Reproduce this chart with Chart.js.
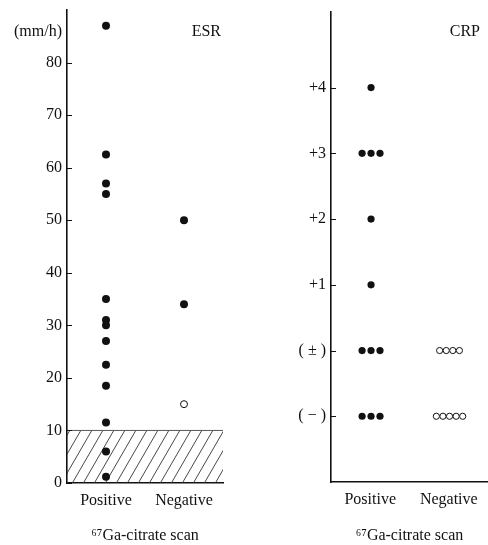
<!DOCTYPE html>
<html>
<head>
<meta charset="utf-8">
<script src="https://cdn.jsdelivr.net/npm/chart.js@4.4.0/dist/chart.umd.min.js"></script>
<style>
  body { margin: 0; background: #fff; }
  #wrap { position: relative; width: 488px; height: 545px; }
  canvas { position: absolute; top: 0; }
</style>
</head>
<body>
<div id="wrap">
  <canvas id="esr" width="245" height="545" style="left:0"></canvas>
  <canvas id="crp" width="243" height="545" style="left:245px"></canvas>
</div>
<script>
// Gallium scan groups (x positions on a 0..1 axis)
const GROUPS = ["Positive", "Negative"];
const GROUP_X = [0.25, 0.75];

// ESR (mm/h)
const ESR_TICKS = [0, 10, 20, 30, 40, 50, 60, 70, 80];
const ESR_POSITIVE = [87, 62.5, 57, 55, 35, 31, 30, 27, 22.5, 18.5, 11.5, 6, 1.2];
const ESR_NEGATIVE = [50, 34];
const ESR_NEGATIVE_OPEN = [15];
const ESR_NORMAL_UPPER = 10;

// CRP grades, index = value on the y axis
const CRP_LEVELS = ["( − )", "( ± )", "+1", "+2", "+3", "+4"];
const CRP_POSITIVE_COUNTS = [3, 3, 1, 1, 3, 1];
const CRP_NEGATIVE_COUNTS = [5, 4, 0, 0, 0, 0];

const INK = "#111";
const SERIF = "'Liberation Serif', 'DejaVu Serif', serif";
const FONT_SIZE = 16;

// hatch pattern for the normal range
function hatchPattern() {
  const w = 11, h = 19;
  const c = document.createElement("canvas");
  c.width = w; c.height = h;
  const g = c.getContext("2d");
  g.strokeStyle = "#333";
  g.lineWidth = 0.9;
  for (const dx of [-w, 0, w]) {
    g.beginPath();
    g.moveTo(dx, h);
    g.lineTo(dx + w, 0);
    g.stroke();
  }
  return document.getElementById("esr").getContext("2d").createPattern(c, "repeat");
}

// dots of one grade spread side by side around the group centre
function spread(counts, centre, step) {
  const pts = [];
  counts.forEach((n, level) => {
    for (let i = 0; i < n; i++) {
      pts.push({ x: centre + (i - (n - 1) / 2) * step, y: level });
    }
  });
  return pts;
}

// short inner tick marks + corner labels
const panelDecor = {
  id: "panelDecor",
  afterDraw(chart, args, opts) {
    const { ctx, chartArea, scales } = chart;
    ctx.save();
    ctx.strokeStyle = INK;
    ctx.lineWidth = 1;
    scales.y.ticks.forEach((t) => {
      const y = Math.round(scales.y.getPixelForValue(t.value)) + 0.5;
      ctx.beginPath();
      ctx.moveTo(chartArea.left, y);
      ctx.lineTo(chartArea.left + 5, y);
      ctx.stroke();
    });
    ctx.fillStyle = INK;
    ctx.font = FONT_SIZE + "px " + SERIF;
    ctx.textBaseline = "middle";
    ctx.textAlign = "right";
    ctx.fillText(opts.corner, chartArea.right - opts.cornerInset, 32);
    if (opts.unit) {
      ctx.fillText(opts.unit, chartArea.left - 5, 32);
    }
    ctx.restore();
  },
};

function xScale(height) {
  return {
    type: "linear",
    min: 0,
    max: 1,
    afterBuildTicks: (axis) => { axis.ticks = GROUP_X.map((v) => ({ value: v })); },
    afterFit: (axis) => {
      axis.height = height;
      axis.paddingLeft = 0;
      axis.paddingRight = 0;
    },
    grid: { display: true, drawOnChartArea: false, drawTicks: false },
    border: { display: true, color: INK, width: 1.6 },
    ticks: {
      color: INK,
      font: { family: SERIF, size: FONT_SIZE },
      padding: 8,
      maxRotation: 0,
      callback: (v) => GROUPS[GROUP_X.indexOf(v)],
    },
    title: {
      display: true,
      text: "⁶⁷Ga-citrate scan",
      color: INK,
      font: { family: SERIF, size: FONT_SIZE },
      padding: { top: 0, bottom: 0 },
    },
  };
}

function yBase(width) {
  return {
    type: "linear",
    afterFit: (axis) => {
      axis.width = width;
      axis.paddingTop = 0;
      axis.paddingBottom = 0;
    },
    grid: { display: true, drawOnChartArea: false, drawTicks: false },
    border: { display: true, color: INK, width: 1.6 },
  };
}

const dot = { pointRadius: 4, pointHoverRadius: 4, pointBackgroundColor: INK, pointBorderColor: INK, pointBorderWidth: 0 };

// ESR panel
new Chart(document.getElementById("esr"), {
  type: "scatter",
  data: {
    datasets: [
      { label: "Positive", data: ESR_POSITIVE.map((y) => ({ x: GROUP_X[0], y })), ...dot, order: 0 },
      { label: "Negative", data: ESR_NEGATIVE.map((y) => ({ x: GROUP_X[1], y })), ...dot, order: 0 },
      {
        label: "Negative (open)",
        data: ESR_NEGATIVE_OPEN.map((y) => ({ x: GROUP_X[1], y })),
        pointRadius: 3.5,
        pointBackgroundColor: "#fff",
        pointBorderColor: INK,
        pointBorderWidth: 1,
        order: 0,
      },
      {
        type: "line",
        label: "Normal range",
        data: [{ x: 0, y: ESR_NORMAL_UPPER }, { x: 1, y: ESR_NORMAL_UPPER }],
        borderColor: "#555",
        borderWidth: 1,
        pointRadius: 0,
        fill: "origin",
        backgroundColor: hatchPattern(),
        order: 5,
      },
    ],
  },
  options: {
    responsive: false,
    animation: false,
    layout: { autoPadding: false, padding: { top: 10, right: 22, left: 0, bottom: 0 } },
    plugins: {
      legend: { display: false },
      tooltip: { enabled: false },
      panelDecor: { corner: "ESR", cornerInset: 2, unit: "(mm/h)" },
    },
    scales: {
      x: xScale(62),
      y: {
        ...yBase(67),
        min: 0,
        max: 90,
        afterBuildTicks: (axis) => { axis.ticks = ESR_TICKS.map((v) => ({ value: v })); },
        ticks: { color: INK, font: { family: SERIF, size: FONT_SIZE }, padding: 5 },
      },
    },
  },
  plugins: [panelDecor],
});

// CRP panel
new Chart(document.getElementById("crp"), {
  type: "scatter",
  data: {
    datasets: [
      {
        label: "Positive",
        data: spread(CRP_POSITIVE_COUNTS, 0.255, 0.057),
        pointRadius: 3.6,
        pointBackgroundColor: INK,
        pointBorderColor: INK,
        pointBorderWidth: 0,
      },
      {
        label: "Negative",
        data: spread(CRP_NEGATIVE_COUNTS, 0.755, 0.042),
        pointRadius: 3.1,
        pointBackgroundColor: "#fff",
        pointBorderColor: INK,
        pointBorderWidth: 1,
      },
    ],
  },
  options: {
    responsive: false,
    animation: false,
    layout: { autoPadding: false, padding: { top: 12, right: 0, left: 0, bottom: 0 } },
    plugins: {
      legend: { display: false },
      tooltip: { enabled: false },
      panelDecor: { corner: "CRP", cornerInset: 8 },
    },
    scales: {
      x: xScale(63),
      y: {
        ...yBase(86),
        min: -1,
        max: 6.15,
        afterBuildTicks: (axis) => { axis.ticks = CRP_LEVELS.map((_, i) => ({ value: i })); },
        ticks: {
          color: INK,
          font: { family: SERIF, size: FONT_SIZE },
          padding: 5,
          callback: (v) => CRP_LEVELS[v],
        },
      },
    },
  },
  plugins: [panelDecor],
});
</script>
</body>
</html>
